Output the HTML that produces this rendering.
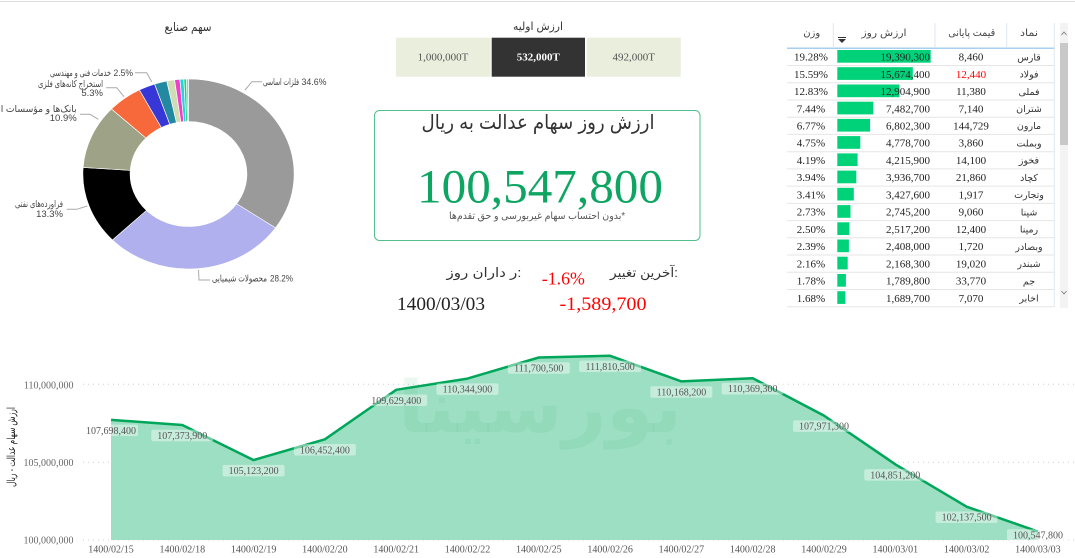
<!DOCTYPE html>
<html>
<head>
<meta charset="utf-8">
<style>
  html,body{margin:0;padding:0;background:#fff;}
  body{width:1075px;height:558px;overflow:hidden;}
  svg{display:block;}
  .ar{font-family:"Liberation Sans","DejaVu Sans",sans-serif;}
  .sr{font-family:"Liberation Serif","DejaVu Serif",serif;}
</style>
</head>
<body>
<svg width="1075" height="558" viewBox="0 0 1075 558" xmlns="http://www.w3.org/2000/svg">
  <!-- top border -->
  <line x1="0" y1="1.5" x2="1075" y2="1.5" stroke="#dedede" stroke-width="1"/>

  <!-- ===== Donut ===== -->
  <text class="ar" x="188" y="31" font-size="12" fill="#333" text-anchor="middle" textLength="47" lengthAdjust="spacingAndGlyphs">سهم صنایع</text>
  <g transform="translate(188.5,174) scale(1.112,1)" stroke="#fff" stroke-width="0.6">
    <path d="M0,-95 A95,95 0 0 1 78.24,53.88 L43.24,29.78 A52.5,52.5 0 0 0 0,-52.5 Z" fill="#9a9a9a"/>
    <path d="M78.24,53.88 A95,95 0 0 1 -68.42,65.91 L-37.81,36.42 A52.5,52.5 0 0 0 43.24,29.78 Z" fill="#b0b0ee"/>
    <path d="M-68.42,65.91 A95,95 0 0 1 -94.77,-6.56 L-52.37,-3.63 A52.5,52.5 0 0 0 -37.81,36.42 Z" fill="#000"/>
    <path d="M-94.77,-6.56 A95,95 0 0 1 -69.26,-65.03 L-38.27,-35.94 A52.5,52.5 0 0 0 -52.37,-3.63 Z" fill="#9ea287"/>
    <path d="M-69.26,-65.03 A95,95 0 0 1 -44.18,-84.10 L-24.42,-46.48 A52.5,52.5 0 0 0 -38.27,-35.94 Z" fill="#f7693a"/>
    <path d="M-44.18,-84.10 A95,95 0 0 1 -30.50,-89.97 L-16.85,-49.72 A52.5,52.5 0 0 0 -24.42,-46.48 Z" fill="#3737d8"/>
    <path d="M-30.50,-89.97 A95,95 0 0 1 -19.56,-92.97 L-10.81,-51.38 A52.5,52.5 0 0 0 -16.85,-49.72 Z" fill="#2389a0"/>
    <path d="M-19.56,-92.97 A95,95 0 0 1 -12.50,-94.17 L-6.91,-52.04 A52.5,52.5 0 0 0 -10.81,-51.38 Z" fill="#cfdcb4"/>
    <path d="M-12.50,-94.17 A95,95 0 0 1 -7.75,-94.69 L-4.28,-52.33 A52.5,52.5 0 0 0 -6.91,-52.04 Z" fill="#ee40c8"/>
    <path d="M-7.75,-94.69 A95,95 0 0 1 -4.18,-94.91 L-2.31,-52.45 A52.5,52.5 0 0 0 -4.28,-52.33 Z" fill="#22d3e0"/>
    <path d="M-4.18,-94.91 A95,95 0 0 1 -1.79,-94.98 L-0.99,-52.49 A52.5,52.5 0 0 0 -2.31,-52.45 Z" fill="#28d070"/>
    <path d="M-1.79,-94.98 A95,95 0 0 1 0,-95 L0,-52.5 A52.5,52.5 0 0 0 -0.99,-52.49 Z" fill="#8fc8e0"/>
  </g>
  <!-- leaders -->
  <g fill="none" stroke="#aaa" stroke-width="1">
    <polyline points="245,90 252,81.7 262,81.7"/>
    <polyline points="198.5,270 199,280 210,280"/>
    <polyline points="135,72.7 146.7,72.7 151.7,81.7"/>
    <polyline points="106,87.7 116.7,87.7 124,96.7"/>
    <polyline points="80,114.3 90,114.3 98.3,119.3"/>
    <polyline points="66.7,209.3 76.7,209.3 87.3,206"/>
  </g>
  <g class="ar" font-size="9.5" fill="#444">
    <text x="263" y="85" textLength="36" lengthAdjust="spacingAndGlyphs">فلزات اساسی</text>
    <text x="301.5" y="85" textLength="25" lengthAdjust="spacingAndGlyphs">34.6%</text>
    <text x="212" y="281.5" textLength="55" lengthAdjust="spacingAndGlyphs">محصولات شیمیایی</text>
    <text x="270" y="281.5" textLength="23" lengthAdjust="spacingAndGlyphs">28.2%</text>
    <text x="50" y="76" textLength="61" lengthAdjust="spacingAndGlyphs">خدمات فنی و مهندسی</text>
    <text x="113.5" y="76" textLength="19.5" lengthAdjust="spacingAndGlyphs">2.5%</text>
    <text x="103" y="86.8" text-anchor="end" textLength="65" lengthAdjust="spacingAndGlyphs">استخراج کانه‌های فلزی</text>
    <text x="103" y="96" text-anchor="end">5.3%</text>
    <text x="76.7" y="111.8" text-anchor="end" textLength="76" lengthAdjust="spacingAndGlyphs">بانک‌ها و مؤسسات ا</text>
    <text x="76.7" y="121" text-anchor="end">10.9%</text>
    <text x="63" y="206.8" text-anchor="end" textLength="48" lengthAdjust="spacingAndGlyphs">فراورده‌های نفتی</text>
    <text x="63" y="216.8" text-anchor="end">13.3%</text>
  </g>

  <!-- ===== Center section ===== -->
  <text class="ar" x="538" y="30" font-size="11" fill="#333" text-anchor="middle" textLength="50" lengthAdjust="spacingAndGlyphs">ارزش اولیه</text>
  <rect x="396" y="37.7" width="94.5" height="39" fill="#eaeedd"/>
  <rect x="491.7" y="37.7" width="93.3" height="39" fill="#333"/>
  <rect x="586.7" y="37.7" width="94" height="39" fill="#eaeedd"/>
  <text class="sr" x="443" y="60.5" font-size="11" fill="#555" text-anchor="middle">1,000,000T</text>
  <text class="sr" x="538.3" y="60.5" font-size="11" fill="#fff" font-weight="bold" text-anchor="middle">532,000T</text>
  <text class="sr" x="633.7" y="60.5" font-size="11" fill="#555" text-anchor="middle">492,000T</text>

  <rect x="374.5" y="110.5" width="325.5" height="130" rx="5" ry="5" fill="#fff" stroke="#52bf8c" stroke-width="1"/>
  <text class="ar" x="538" y="129" font-size="20" fill="#333" text-anchor="middle" textLength="233" lengthAdjust="spacingAndGlyphs">ارزش روز سهام عدالت به ریال</text>
  <text class="sr" x="540" y="202.7" font-size="48" fill="#0ea562" text-anchor="middle" textLength="246" lengthAdjust="spacingAndGlyphs">100,547,800</text>
  <text class="ar" x="537" y="219" font-size="10" fill="#555" text-anchor="middle" direction="rtl" textLength="176" lengthAdjust="spacingAndGlyphs">*بدون احتساب سهام غیربورسی و حق تقدم‌ها</text>

  <text class="ar" x="644" y="277" font-size="13" fill="#333" text-anchor="middle" textLength="68" lengthAdjust="spacingAndGlyphs">آخرین تغییر:</text>
  <text class="sr" x="563.3" y="284.5" font-size="18" fill="#ff0000" text-anchor="middle" textLength="43" lengthAdjust="spacingAndGlyphs">-1.6%</text>
  <text class="ar" x="484" y="277" font-size="13" fill="#333" text-anchor="middle" textLength="75" lengthAdjust="spacingAndGlyphs">ر داران روز:</text>
  <text class="sr" x="441" y="310" font-size="19" fill="#222" text-anchor="middle" textLength="88" lengthAdjust="spacingAndGlyphs">1400/03/03</text>
  <text class="sr" x="603" y="310" font-size="19" fill="#ff0000" text-anchor="middle" textLength="87" lengthAdjust="spacingAndGlyphs">-1,589,700</text>

  <!-- ===== Table ===== -->
  <g stroke="#dfe7ef" stroke-width="1">
    <line x1="833.3" y1="23" x2="833.3" y2="47"/>
    <line x1="935" y1="23" x2="935" y2="47"/>
    <line x1="1006.7" y1="23" x2="1006.7" y2="47"/>
    <line x1="1054.3" y1="23" x2="1054.3" y2="307"/>
  </g>
  <line x1="787" y1="48.3" x2="1054" y2="48.3" stroke="#a8cff0" stroke-width="1.5"/>
  <g class="ar" font-size="10" fill="#444" text-anchor="middle">
    <text x="811.7" y="36" textLength="17" lengthAdjust="spacingAndGlyphs">وزن</text>
    <text x="884" y="36" textLength="45" lengthAdjust="spacingAndGlyphs">ارزش روز</text>
    <text x="971.7" y="36" textLength="47" lengthAdjust="spacingAndGlyphs">قیمت پایانی</text>
    <text x="1029" y="36" textLength="18" lengthAdjust="spacingAndGlyphs">نماد</text>
  </g>
  <line x1="838" y1="37.5" x2="846" y2="37.5" stroke="#333" stroke-width="1"/>
  <polygon points="838,39 846,39 842,43" fill="#333"/>

  <!-- scrollbar -->
  <rect x="1060" y="23" width="8" height="285" fill="#f3f3f3"/>
  <rect x="1060" y="43" width="8" height="102" fill="#c8c8c8"/>
  <polyline points="1061.5,35 1064,32 1066.5,35" fill="none" stroke="#777" stroke-width="0.8"/>
  <polyline points="1061.5,291 1064,294 1066.5,291" fill="none" stroke="#777" stroke-width="0.8"/>

  <!-- row separators -->
  <g stroke="#e6e6e6" stroke-width="1">
    <line x1="787" y1="65.5" x2="1054" y2="65.5"/>
    <line x1="787" y1="82.8" x2="1054" y2="82.8"/>
    <line x1="787" y1="100" x2="1054" y2="100"/>
    <line x1="787" y1="117.2" x2="1054" y2="117.2"/>
    <line x1="787" y1="134.4" x2="1054" y2="134.4"/>
    <line x1="787" y1="151.7" x2="1054" y2="151.7"/>
    <line x1="787" y1="168.9" x2="1054" y2="168.9"/>
    <line x1="787" y1="186.1" x2="1054" y2="186.1"/>
    <line x1="787" y1="203.4" x2="1054" y2="203.4"/>
    <line x1="787" y1="220.6" x2="1054" y2="220.6"/>
    <line x1="787" y1="237.8" x2="1054" y2="237.8"/>
    <line x1="787" y1="255" x2="1054" y2="255"/>
    <line x1="787" y1="272.3" x2="1054" y2="272.3"/>
    <line x1="787" y1="289.5" x2="1054" y2="289.5"/>
    <line x1="787" y1="306.7" x2="1054" y2="306.7"/>
  </g>
  <!-- bars -->
  <g fill="#00d27a">
    <rect x="837.3" y="50" width="93.4" height="12.7"/>
    <rect x="837.3" y="67.2" width="75.5" height="12.7"/>
    <rect x="837.3" y="84.5" width="62.2" height="12.7"/>
    <rect x="837.3" y="101.7" width="36" height="12.7"/>
    <rect x="837.3" y="118.9" width="32.8" height="12.7"/>
    <rect x="837.3" y="136.1" width="23" height="12.7"/>
    <rect x="837.3" y="153.4" width="20.3" height="12.7"/>
    <rect x="837.3" y="170.6" width="19" height="12.7"/>
    <rect x="837.3" y="187.8" width="16.5" height="12.7"/>
    <rect x="837.3" y="205.1" width="13.2" height="12.7"/>
    <rect x="837.3" y="222.3" width="12.1" height="12.7"/>
    <rect x="837.3" y="239.5" width="11.6" height="12.7"/>
    <rect x="837.3" y="256.7" width="10.4" height="12.7"/>
    <rect x="837.3" y="274" width="8.6" height="12.7"/>
    <rect x="837.3" y="291.2" width="8.1" height="12.7"/>
  </g>
  <!-- weights -->
  <g class="sr" font-size="11" fill="#222" text-anchor="middle">
    <text x="811" y="60.6">19.28%</text>
    <text x="811" y="77.8">15.59%</text>
    <text x="811" y="95.1">12.83%</text>
    <text x="811" y="112.3">7.44%</text>
    <text x="811" y="129.5">6.77%</text>
    <text x="811" y="146.7">4.75%</text>
    <text x="811" y="164">4.19%</text>
    <text x="811" y="181.2">3.94%</text>
    <text x="811" y="198.4">3.41%</text>
    <text x="811" y="215.7">2.73%</text>
    <text x="811" y="232.9">2.50%</text>
    <text x="811" y="250.1">2.39%</text>
    <text x="811" y="267.3">2.16%</text>
    <text x="811" y="284.6">1.78%</text>
    <text x="811" y="301.8">1.68%</text>
  </g>
  <!-- values -->
  <g class="sr" font-size="11" fill="#222" text-anchor="end">
    <text x="930" y="60.6">19,390,300</text>
    <text x="930" y="77.8">15,674,400</text>
    <text x="930" y="95.1">12,904,900</text>
    <text x="930" y="112.3">7,482,700</text>
    <text x="930" y="129.5">6,802,300</text>
    <text x="930" y="146.7">4,778,700</text>
    <text x="930" y="164">4,215,900</text>
    <text x="930" y="181.2">3,936,700</text>
    <text x="930" y="198.4">3,427,600</text>
    <text x="930" y="215.7">2,745,200</text>
    <text x="930" y="232.9">2,517,200</text>
    <text x="930" y="250.1">2,408,000</text>
    <text x="930" y="267.3">2,168,300</text>
    <text x="930" y="284.6">1,789,800</text>
    <text x="930" y="301.8">1,689,700</text>
  </g>
  <!-- prices -->
  <g class="sr" font-size="11" fill="#222" text-anchor="middle">
    <text x="971" y="60.6">8,460</text>
    <text x="971" y="77.8" fill="#ff0000">12,440</text>
    <text x="971" y="95.1">11,380</text>
    <text x="971" y="112.3">7,140</text>
    <text x="971" y="129.5">144,729</text>
    <text x="971" y="146.7">3,860</text>
    <text x="971" y="164">14,100</text>
    <text x="971" y="181.2">21,860</text>
    <text x="971" y="198.4">1,917</text>
    <text x="971" y="215.7">9,060</text>
    <text x="971" y="232.9">12,400</text>
    <text x="971" y="250.1">1,720</text>
    <text x="971" y="267.3">19,020</text>
    <text x="971" y="284.6">33,770</text>
    <text x="971" y="301.8">7,070</text>
  </g>
  <!-- symbols -->
  <g class="ar" font-size="9.5" fill="#333" text-anchor="middle">
    <text x="1029" y="60.3">قارس</text>
    <text x="1029" y="77.5">فولاد</text>
    <text x="1029" y="94.8">فملی</text>
    <text x="1029" y="112">شتران</text>
    <text x="1029" y="129.2">مارون</text>
    <text x="1029" y="146.4">وبملت</text>
    <text x="1029" y="163.7">فخوز</text>
    <text x="1029" y="180.9">کچاد</text>
    <text x="1029" y="198.1">وتجارت</text>
    <text x="1029" y="215.4">شپنا</text>
    <text x="1029" y="232.6">رمپنا</text>
    <text x="1029" y="249.8">وبصادر</text>
    <text x="1029" y="267">شبندر</text>
    <text x="1029" y="284.3">جم</text>
    <text x="1029" y="301.5">اخابر</text>
  </g>

  <!-- ===== Area chart ===== -->
  <g stroke="#cfcfcf" stroke-width="1" stroke-dasharray="1,4">
    <line x1="83" y1="384.3" x2="1075" y2="384.3"/>
    <line x1="83" y1="462.3" x2="1075" y2="462.3"/>
    <line x1="83" y1="540" x2="1075" y2="540"/>
  </g>
  <polygon fill="#9ddfc3" points="111,540 111,419.9 182.3,425 253.6,460.1 324.9,439.3 396.2,389.8 467.5,378.6 538.8,357.5 610.1,355.8 681.4,381.4 752.7,378.2 824,415.6 895.3,464.3 966.6,506.7 1037.9,531.5 1037.9,540"/>
  <text class="ar" x="540" y="432" font-size="72" font-weight="bold" fill="#3cae74" fill-opacity="0.10" text-anchor="middle" textLength="284" lengthAdjust="spacingAndGlyphs">بورسینا</text>
  <polyline fill="none" stroke="#00a65a" stroke-width="2.5" stroke-linejoin="round" points="111,419.9 182.3,425 253.6,460.1 324.9,439.3 396.2,389.8 467.5,378.6 538.8,357.5 610.1,355.8 681.4,381.4 752.7,378.2 824,415.6 895.3,464.3 966.6,506.7 1037.9,531.5"/>

  <!-- data labels -->
  <g fill="#ffffff" fill-opacity="0.42">
    <rect x="86" y="424.6" width="52" height="11.5" rx="2"/>
    <rect x="151.3" y="429.8" width="62" height="11.5" rx="2"/>
    <rect x="222.6" y="464.9" width="62" height="11.5" rx="2"/>
    <rect x="293.9" y="444" width="62" height="11.5" rx="2"/>
    <rect x="365.2" y="394.5" width="62" height="11.5" rx="2"/>
    <rect x="436.5" y="383.4" width="62" height="11.5" rx="2"/>
    <rect x="507.8" y="362.3" width="62" height="11.5" rx="2"/>
    <rect x="579.1" y="360.6" width="62" height="11.5" rx="2"/>
    <rect x="650.4" y="386.2" width="62" height="11.5" rx="2"/>
    <rect x="721.7" y="383" width="62" height="11.5" rx="2"/>
    <rect x="793" y="420.4" width="62" height="11.5" rx="2"/>
    <rect x="864.3" y="469.1" width="62" height="11.5" rx="2"/>
    <rect x="935.6" y="511.5" width="62" height="11.5" rx="2"/>
    <rect x="1007" y="529.3" width="62" height="11.5" rx="2"/>
  </g>
  <g class="sr" font-size="10" fill="#555" text-anchor="middle">
    <text x="111" y="434">107,698,400</text>
    <text x="182.3" y="439">107,373,900</text>
    <text x="253.6" y="474.1">105,123,200</text>
    <text x="324.9" y="453.3">106,452,400</text>
    <text x="396.2" y="403.8">109,629,400</text>
    <text x="467.5" y="392.6">110,344,900</text>
    <text x="538.8" y="371.5">111,700,500</text>
    <text x="610.1" y="369.8">111,810,500</text>
    <text x="681.4" y="395.4">110,168,200</text>
    <text x="752.7" y="392.2">110,369,300</text>
    <text x="824" y="429.6">107,971,300</text>
    <text x="895.3" y="478.3">104,851,200</text>
    <text x="966.6" y="520.7">102,137,500</text>
    <text x="1038" y="538.5">100,547,800</text>
  </g>

  <!-- y axis -->
  <g class="sr" font-size="10" fill="#666" text-anchor="end">
    <text x="73.5" y="388.5">110,000,000</text>
    <text x="73.5" y="466">105,000,000</text>
    <text x="73.5" y="543.5">100,000,000</text>
  </g>
  <text class="ar" transform="translate(15,447) rotate(-90)" font-size="11" fill="#222" text-anchor="middle" textLength="80" lengthAdjust="spacingAndGlyphs">ارزش سهام عدالت - ریال</text>

  <!-- x axis -->
  <g class="sr" font-size="10" fill="#555" text-anchor="middle">
    <text x="111" y="552.5">1400/02/15</text>
    <text x="182.3" y="552.5">1400/02/18</text>
    <text x="253.6" y="552.5">1400/02/19</text>
    <text x="324.9" y="552.5">1400/02/20</text>
    <text x="396.2" y="552.5">1400/02/21</text>
    <text x="467.5" y="552.5">1400/02/22</text>
    <text x="538.8" y="552.5">1400/02/25</text>
    <text x="610.1" y="552.5">1400/02/26</text>
    <text x="681.4" y="552.5">1400/02/27</text>
    <text x="752.7" y="552.5">1400/02/28</text>
    <text x="824" y="552.5">1400/02/29</text>
    <text x="895.3" y="552.5">1400/03/01</text>
    <text x="966.6" y="552.5">1400/03/02</text>
    <text x="1037.9" y="552.5">1400/03/03</text>
  </g>
</svg>
</body>
</html>
